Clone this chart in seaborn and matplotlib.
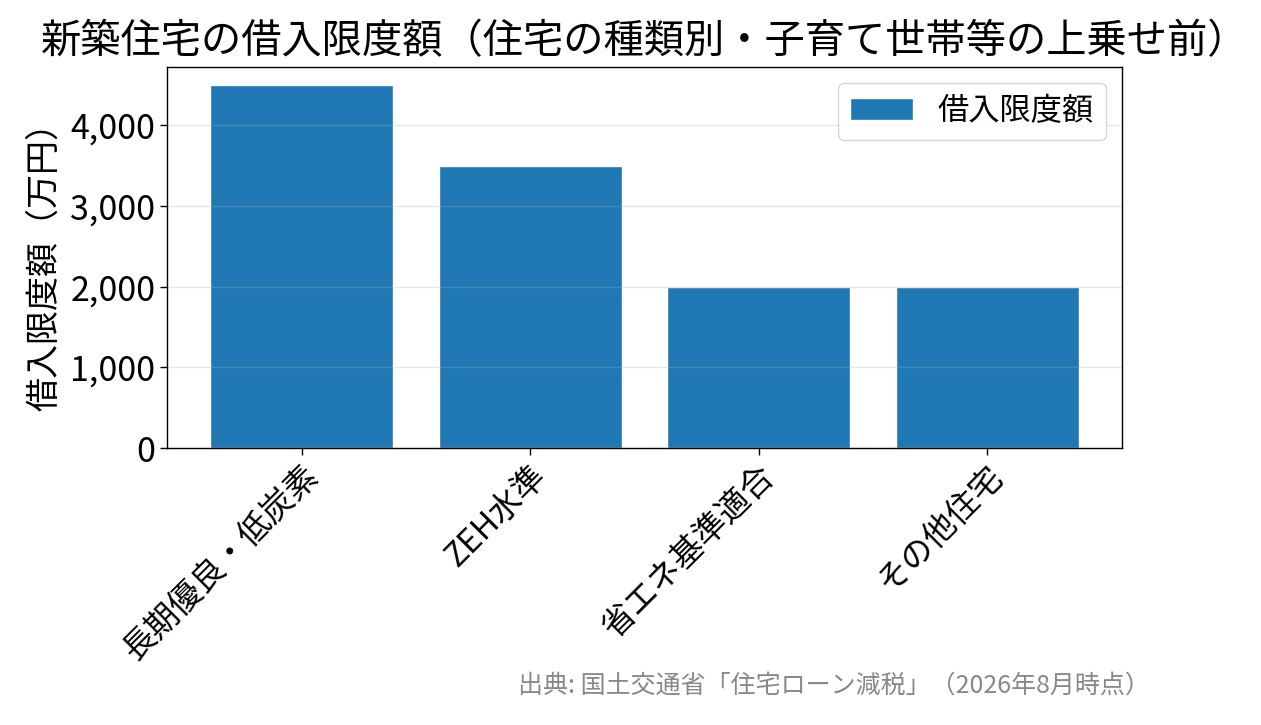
import matplotlib
matplotlib.use("Agg")
import matplotlib.pyplot as plt
import seaborn as sns
import pandas as pd

categories = ["長期優良・低炭素", "ZEH水準", "省エネ基準適合", "その他住宅"]
limits = [4500, 3500, 2000, 2000]
series_name = "借入限度額"

sns.set_theme(style="ticks")
plt.rcParams["font.family"] = ["Noto Sans CJK JP", "DejaVu Sans"]
plt.rcParams["text.color"] = "black"
plt.rcParams["axes.labelcolor"] = "black"
plt.rcParams["xtick.color"] = "black"
plt.rcParams["ytick.color"] = "black"
plt.rcParams["axes.edgecolor"] = "black"

df = pd.DataFrame({"住宅の種類": categories, series_name: limits})

fig = plt.figure(figsize=(12.61, 7.25), dpi=100)
ax = fig.add_axes([0.1324, 0.382, 0.7574, 0.5256])

sns.barplot(data=df, x="住宅の種類", y=series_name, color="#1f77b4",
            saturation=1, width=0.8, label=series_name, ax=ax)

ax.set_xlim(-0.59, 3.59)
ax.set_ylim(0, 4725)
ax.grid(axis="y", color="#b0b0b0", alpha=0.3, linewidth=1)
ax.set_axisbelow(False)
for s in ax.spines.values():
    s.set_linewidth(1.0)

ax.yaxis.set_major_formatter(matplotlib.ticker.FuncFormatter(lambda v, p: f"{int(v):,}"))
ax.tick_params(axis="y", labelsize=24.5, length=5, width=1)
ax.tick_params(axis="x", labelsize=23.5, length=5, width=1)
ax.set_xlabel("")
ax.set_ylabel("借入限度額（万円）", fontsize=24.5, labelpad=6)
plt.setp(ax.get_xticklabels(), rotation=45, ha="right", rotation_mode="anchor")

ax.legend(loc="upper right", fontsize=22.5, frameon=True, fancybox=True, framealpha=0.8)
ax.set_title("新築住宅の借入限度額（住宅の種類別・子育て世帯等の上乗せ前）", fontsize=29, pad=10)

fig.text(0.912, 0.036, "出典: 国土交通省「住宅ローン減税」（2026年8月時点）",
         ha="right", va="bottom", fontsize=18, color="#888888")

fig.savefig("out.png", dpi=100)
